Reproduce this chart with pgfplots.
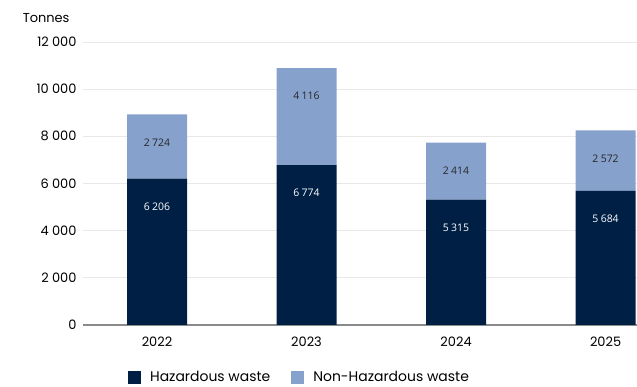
\documentclass[border=0pt]{standalone}
\usepackage{pgfplots}
\pgfplotsset{compat=1.18}
\usepackage{pgfplotstable}
\usepackage{fontspec}
\setmainfont{Poppins}
\newfontfamily\labfont{Open Sans}
\definecolor{navy}{HTML}{001F45}
\definecolor{lightb}{HTML}{86A2CC}
\definecolor{gridc}{HTML}{E8E8E8}
\definecolor{axc}{HTML}{8A8A8A}
\pgfplotstableread{
x haz non
0 6206 2724
1 6774 4116
2 5315 2414
3 5684 2572
}\data
\begin{document}
\begin{tikzpicture}
\path[use as bounding box] (0,0) rectangle (637bp,387bp);
\begin{axis}[
  at={(83bp,62bp)}, anchor=south west,
  scale only axis, width=554bp, height=283bp,
  ybar stacked, bar width=60bp,
  xmin=-0.495, xmax=3.21,
  ymin=0, ymax=12000,
  ytick={0,2000,...,12000},
  scaled y ticks=false,
  xtick=data, xticklabels={2022,2023,2024,2025},
  major tick length=0pt,
  /pgf/number format/assume math mode=true,
  /pgf/number format/1000 sep={\hspace{0.25em}},
  yticklabel style={font=\fontsize{13}{15}\selectfont, xshift=-3bp},
  xticklabel style={font=\fontsize{13}{15}\selectfont, yshift=-8bp},
  ymajorgrids, grid style={color=gridc, line width=0.8bp},
  separate axis lines,
  axis x line*=bottom, axis y line*=left,
  x axis line style={color=axc, line width=1.2bp, -},
  y axis line style={draw=none},
  point meta=explicit,
  nodes near coords={\pgfmathprintnumber[assume math mode=true,1000 sep={\hspace{0.22em}}]{\pgfplotspointmeta}},
  nodes near coords style={font=\labfont\fontsize{10.5}{12}\selectfont, anchor=center,
    /utils/exec={\pgfmathfloattofixed{\pgfplotspointmeta}\global\let\hv\pgfmathresult},
    yshift={(0.5*\hv*0.0235833-28)*1bp}},
  legend columns=2,
  legend style={draw=none, fill=none, at={(0.389,-0.184)}, anchor=center,
    font=\fontsize{14}{16}\selectfont, inner sep=0pt, nodes={inner sep=0pt}},
  legend image code/.code={\fill[#1] (0bp,-6.5bp) rectangle (13bp,6.5bp);},
]
\addplot[fill=navy, draw=none, nodes near coords style={text=white}] table[x=x, y=haz, meta=haz] {\data};
\addlegendentry{\kern9bp Hazardous waste\kern21bp\null}
\addplot[fill=lightb, draw=none, nodes near coords style={text=black!85}] table[x=x, y=non, meta=non] {\data};
\addlegendentry{\kern9bp Non-Hazardous waste}
\end{axis}
\node[anchor=east, font=\fontsize{13}{15}\selectfont] at (73bp,369bp) {Tonnes};
\end{tikzpicture}
\end{document}
